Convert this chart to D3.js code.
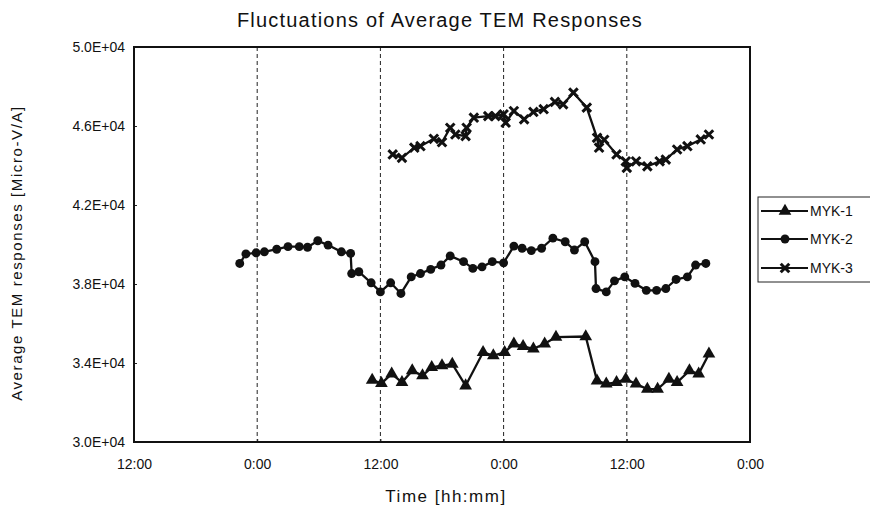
<!DOCTYPE html>
<html lang="en">
<head>
<meta charset="utf-8">
<title>Fluctuations of Average TEM Responses</title>
<script src="https://cdnjs.cloudflare.com/ajax/libs/d3/7.8.5/d3.min.js"></script>
<style>
    body { margin: 0; background: #fff; }
    text { font-family: "Liberation Sans", Arial, sans-serif; fill: #111; }
</style>
</head>
<body>
<svg width="870" height="513"></svg>
<script>
// hours counted from the first 12:00 on the axis
var hoursMYK1 = [23.2, 24.1, 25.1, 26.1, 27.1, 28.1, 29.0, 30.0, 31.0, 32.3, 34.0, 35.0, 36.1, 37.0, 37.9,
                 38.9, 40.0, 41.1, 44.0, 45.1, 46.0, 47.0, 47.9, 48.9, 50.0, 51.0, 52.1, 52.9, 54.1, 55.0, 56.0];
var valuesMYK1 = [33140, 32970, 33450, 33020, 33610, 33360, 33780, 33870, 33950, 32850, 34540, 34380, 34540, 34970, 34840,
                  34720, 34970, 35310, 35340, 33100, 32940, 33020, 33190, 32940, 32680, 32680, 33190, 33020, 33610, 33450, 34460];

var hoursMYK2 = [10.3, 10.9, 11.9, 12.7, 13.9, 15.0, 16.1, 16.9, 17.9, 18.9, 20.2, 21.1, 21.2, 21.9, 23.1,
                 24.0, 25.0, 26.0, 27.0, 27.9, 28.9, 29.9, 30.8, 32.1, 33.0, 33.9, 34.9, 36.0, 37.0, 37.8,
                 38.7, 39.7, 40.8, 42.0, 42.9, 43.9, 44.9, 45.0, 46.0, 46.8, 47.8, 48.8, 49.9, 50.9, 51.8,
                 52.8, 53.9, 54.7, 55.7];
var valuesMYK2 = [39040, 39520, 39580, 39630, 39760, 39890, 39890, 39860, 40190, 39970, 39630, 39550, 38530, 38620, 38060,
                  37600, 38060, 37520, 38360, 38530, 38740, 38960, 39420, 39130, 38790, 38870, 39130, 39070, 39920, 39810,
                  39690, 39810, 40320, 40140, 39720, 40140, 39130, 37770, 37600, 38160, 38360, 38030, 37680, 37680, 37770,
                  38230, 38360, 38960, 39040];

var hoursMYK3 = [25.2, 26.1, 27.3, 27.9, 29.2, 30.0, 30.8, 31.3, 32.3, 32.4, 33.1, 34.5, 35.2, 36.0, 36.2,
                 37.0, 38.0, 38.9, 39.9, 41.0, 41.8, 42.8, 44.1, 45.1, 45.3, 45.8, 47.0, 47.9, 48.0, 48.9,
                 50.0, 51.2, 51.8, 52.9, 53.9, 55.2, 56.0];
var valuesMYK3 = [44560, 44390, 44900, 44980, 45350, 45180, 45910, 45570, 45490, 45910, 46420, 46500, 46500, 46590, 46170,
                  46760, 46340, 46710, 46850, 47220, 47100, 47690, 46930, 45400, 44900, 45300, 44560, 44210, 43880, 44210,
                  43960, 44210, 44300, 44810, 44980, 45320, 45570];

var seriesNames = ["MYK-1", "MYK-2", "MYK-3"];
var xTickHours = [0, 12, 24, 36, 48, 60];
var xTickLabels = ["12:00", "0:00", "12:00", "0:00", "12:00", "0:00"];
var yTickValues = [30000, 34000, 38000, 42000, 46000, 50000];

var svg = d3.select("svg");
var plotL = 134, plotR = 750, plotT = 47, plotB = 442;

var x = d3.scaleLinear().domain([0, 60]).range([plotL, plotR]);
var y = d3.scaleLinear().domain([30000, 50000]).range([plotB, plotT]);

svg.append("text")
    .attr("x", 440).attr("y", 27)
    .attr("text-anchor", "middle")
    .style("font-size", "20px")
    .style("letter-spacing", "1.2px")
    .text("Fluctuations of Average TEM Responses");

// dashed grid at the inner ticks
svg.append("g").selectAll("line")
    .data(xTickHours.slice(1, -1))
    .enter().append("line")
    .attr("x1", function(d) { return x(d); })
    .attr("x2", function(d) { return x(d); })
    .attr("y1", plotT).attr("y2", plotB)
    .attr("stroke", "#222")
    .attr("stroke-width", 1)
    .attr("stroke-dasharray", "4,3");

// axes
var yAxis = d3.axisLeft(y).tickValues(yTickValues).tickSize(-3).tickPadding(9)
    .tickFormat(function(d) { return d.toExponential(1).toUpperCase().replace("E+4", "E+04"); });
var gy = svg.append("g").attr("transform", "translate(" + plotL + ",0)").call(yAxis);

var xAxis = d3.axisBottom(x).tickValues(xTickHours).tickSize(-3).tickPadding(17)
    .tickFormat(function(d, i) { return xTickLabels[i]; });
var gx = svg.append("g").attr("transform", "translate(0," + plotB + ")").call(xAxis);

[gx, gy].forEach(function(g) {
    g.select(".domain").remove();
    g.selectAll("text").style("font-size", "14px").style("font-family", "Liberation Sans, Arial, sans-serif").attr("fill", "#111");
    g.selectAll("line").attr("stroke", "#222");
});

// frame
svg.append("rect")
    .attr("x", plotL).attr("y", plotT)
    .attr("width", plotR - plotL).attr("height", plotB - plotT)
    .attr("fill", "none").attr("stroke", "#111").attr("stroke-width", 2);

svg.append("text")
    .attr("x", 446).attr("y", 502)
    .attr("text-anchor", "middle")
    .style("font-size", "17px")
    .style("letter-spacing", "1.5px")
    .text("Time [hh:mm]");

svg.append("text")
    .attr("transform", "translate(22,253) rotate(-90)")
    .attr("text-anchor", "middle")
    .style("font-size", "15px")
    .style("letter-spacing", "1.6px")
    .text("Average TEM responses [Micro-V/A]");

// markers
var triangle = d3.symbol().type(d3.symbolTriangle).size(70);
var circle = d3.symbol().type(d3.symbolCircle).size(62);
function crossPath(s) {
    return "M" + (-s) + "," + (-s) + "L" + s + "," + s + "M" + (-s) + "," + s + "L" + s + "," + (-s);
}

var series = [
    { name: seriesNames[0], hours: hoursMYK1, values: valuesMYK1, marker: "triangle" },
    { name: seriesNames[1], hours: hoursMYK2, values: valuesMYK2, marker: "circle" },
    { name: seriesNames[2], hours: hoursMYK3, values: valuesMYK3, marker: "cross" }
];

var line = d3.line()
    .x(function(d) { return x(d[0]); })
    .y(function(d) { return y(d[1]); });

function drawMarker(sel, kind) {
    if (kind == "triangle") {
        sel.append("path").attr("d", triangle()).attr("fill", "#111");
    } else if (kind == "circle") {
        sel.append("path").attr("d", circle()).attr("fill", "#111");
    } else {
        sel.append("path").attr("d", crossPath(4.3)).attr("stroke", "#111").attr("stroke-width", 3).attr("fill", "none");
    }
}

series.forEach(function(s) {
    var pts = s.hours.map(function(h, i) { return [h, s.values[i]]; });
    var g = svg.append("g");
    g.append("path")
        .datum(pts)
        .attr("d", line)
        .attr("fill", "none")
        .attr("stroke", "#111")
        .attr("stroke-width", 2.3);
    g.selectAll(".pt")
        .data(pts)
        .enter().append("g")
        .attr("class", "pt")
        .attr("transform", function(d) { return "translate(" + x(d[0]) + "," + y(d[1]) + ")"; })
        .each(function() { drawMarker(d3.select(this), s.marker); });
});

// legend
var legend = svg.append("g");
legend.append("rect")
    .attr("x", 758).attr("y", 197)
    .attr("width", 125).attr("height", 85)
    .attr("fill", "#fff").attr("stroke", "#222").attr("stroke-width", 1);

var rowY = [211, 239, 268];
series.forEach(function(s, i) {
    var row = legend.append("g").attr("transform", "translate(0," + rowY[i] + ")");
    row.append("line").attr("x1", 761).attr("x2", 808).attr("y1", 0).attr("y2", 0)
        .attr("stroke", "#111").attr("stroke-width", 2);
    var m = row.append("g").attr("transform", "translate(785,0)");
    drawMarker(m, s.marker);
    row.append("text").attr("x", 810).attr("y", 5)
        .style("font-size", "14px")
        .text(s.name);
});
</script>
</body>
</html>
